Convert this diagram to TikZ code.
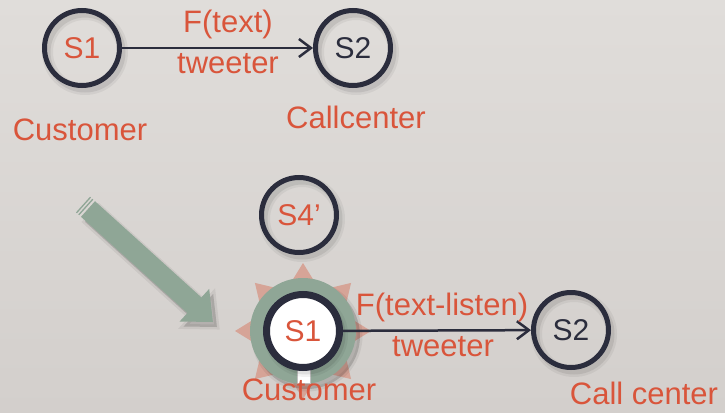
\documentclass[tikz,border=0pt]{standalone}
\usepackage{fontspec}
\setmainfont{Liberation Sans}
\usetikzlibrary{arrows.meta}
\definecolor{bgtop}{HTML}{E0DDDA}
\definecolor{bgbot}{HTML}{D3CFCC}
\definecolor{navy}{HTML}{2B2D3D}
\definecolor{redtxt}{HTML}{D9553B}
\definecolor{sage}{HTML}{8FA696}
\definecolor{pinkstar}{HTML}{D6A497}
\begin{document}
\begin{tikzpicture}[x=1pt,y=-1pt,
  ringshadow/.style={
    preaction={draw=black,draw opacity=0.05,line width=11pt,transform canvas={xshift=3pt,yshift=-4pt}},
    preaction={draw=black,draw opacity=0.08,line width=6pt,transform canvas={xshift=3pt,yshift=-4pt}}},
  state/.style={circle,draw=navy,line width=5pt,minimum size=75pt,inner sep=0pt,
    font=\fontsize{30}{36}\selectfont,ringshadow},
  lbl/.style={text=redtxt,font=\fontsize{31}{36}\selectfont,inner sep=0pt},
  conn/.style={draw=navy,line width=2.5pt,-{Straight Barb[length=12pt,width=18pt,line width=2.5pt]}},
  fillshadow/.style={
    preaction={fill=black,fill opacity=0.06,draw=black,draw opacity=0.06,line width=5pt,transform canvas={xshift=4pt,yshift=-5pt}},
    preaction={fill=black,fill opacity=0.10,transform canvas={xshift=4pt,yshift=-5pt}}}]
\useasboundingbox (0,0) rectangle (725,412);
\shade[top color=bgtop,bottom color=bgbot] (0,0) rectangle (725,412);

% top row
\node[state,text=redtxt] (s1a) at (82,48) {S1};
\node[state,text=navy] (s2a) at (353,48) {S2};
\draw[conn] (s1a) -- (s2a);
\node[lbl] (fa) at (228,24) {F(text)};
\node[lbl] (ta) at (228,64) {tweeter};
\node[lbl] (cua) at (80,130) {Customer};
\node[lbl] (cca) at (356,117) {Callcenter};

% S4'
\node[state,text=redtxt] (s4) at (299,215) {S4’};

% big green arrow
\fill[sage,fillshadow] (81.0,216.8) -- (95.0,201.2) -- (201.4,297.4) -- (209.2,288.9)
  -- (212.9,322) -- (179.6,321.5) -- (187.4,313.0) -- cycle;
\draw[sage,line width=1.3pt] (78.8,214.8) -- (92.8,199.2);
\draw[sage,line width=1.3pt] (76.5,212.8) -- (90.5,197.2);

% bottom S1 with star and halo
\coordinate (c1b) at (303,331);
\fill[pinkstar,shift={(303,331)}] (0:68)
  \foreach \a in {0,45,...,315} { -- (\a+22.5:44) -- (\a+45:68) } -- cycle;
\fill[sage,fillshadow] (c1b) circle (53);
\fill[white,draw=black!25,line width=0.6pt] (297,360) rectangle (310,383);
\node[state,fill=white,line width=7pt,minimum size=73pt,text=redtxt] (s1b) at (c1b) {S1};

% bottom S2
\node[state,text=navy] (s2b) at (571,330) {S2};
\draw[conn] (s1b) -- (s2b);
\node[lbl] (fb) at (442,307) {F(text-listen)};
\node[lbl] (tb) at (443,347) {tweeter};
\node[lbl] (cub) at (309,390) {Customer};
\node[lbl] (ccb) at (644,393) {Call center};
\end{tikzpicture}
\end{document}
